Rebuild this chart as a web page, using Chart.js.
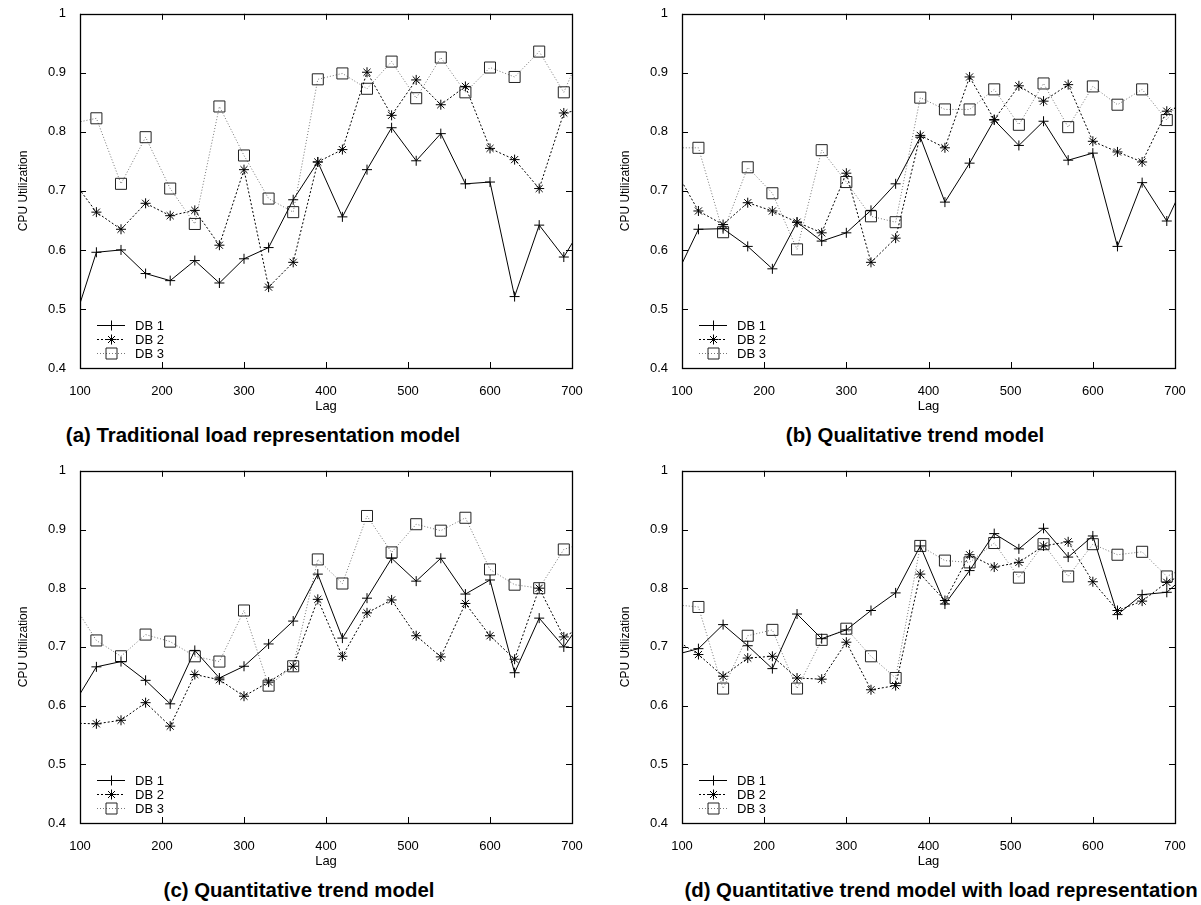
<!DOCTYPE html>
<html>
<head>
<meta charset="utf-8">
<script src="https://cdn.jsdelivr.net/npm/chart.js@4.4.0/dist/chart.umd.min.js"></script>
<style>
body { margin: 0; background: #fff; width: 1201px; height: 905px; position: relative; overflow: hidden; }
canvas { position: absolute; }
.cap { position: absolute; font: bold 20.4px "Liberation Sans", Arial, sans-serif; color: #000; white-space: nowrap; transform: translateX(-50%); }
</style>
</head>
<body>
<canvas id="cA" width="600" height="420" style="left:0px;top:0px"></canvas>
<canvas id="cB" width="600" height="420" style="left:602px;top:0px"></canvas>
<canvas id="cC" width="600" height="418" style="left:0px;top:457px"></canvas>
<canvas id="cD" width="600" height="418" style="left:602px;top:457px"></canvas>
<div class="cap" style="left:263px;top:424px">(a) Traditional load representation model</div>
<div class="cap" style="left:915px;top:424px">(b) Qualitative trend model</div>
<div class="cap" style="left:299px;top:879px">(c) Quantitative trend model</div>
<div class="cap" style="left:941px;top:879px">(d) Quantitative trend model with load representation</div>
<script>
// lag values (first and last lie outside the 100..700 axis and are clipped)
var lag = [90, 120, 150, 180, 210, 240, 270, 300, 330, 360, 390, 420, 450, 480, 510, 540, 570, 600, 630, 660, 690, 720];
var seriesNames = ['DB 1', 'DB 2', 'DB 3'];

// (a) traditional load representation model
var db1A = [0.466, 0.596, 0.600, 0.560, 0.548, 0.582, 0.544, 0.585, 0.604, 0.685, 0.749, 0.656, 0.736, 0.807, 0.751, 0.797, 0.712, 0.715, 0.521, 0.642, 0.588, 0.657];
var db2A = [0.720, 0.664, 0.635, 0.679, 0.658, 0.667, 0.608, 0.736, 0.537, 0.579, 0.749, 0.770, 0.901, 0.828, 0.888, 0.846, 0.877, 0.772, 0.753, 0.704, 0.832, 0.840];
var db3A = [0.814, 0.823, 0.712, 0.791, 0.704, 0.644, 0.843, 0.760, 0.687, 0.664, 0.889, 0.899, 0.873, 0.919, 0.857, 0.926, 0.867, 0.909, 0.893, 0.936, 0.867, 0.963];

// (b) qualitative trend model
var db1B = [0.548, 0.635, 0.636, 0.606, 0.568, 0.647, 0.615, 0.629, 0.667, 0.712, 0.791, 0.681, 0.747, 0.820, 0.777, 0.818, 0.752, 0.764, 0.606, 0.714, 0.649, 0.739];
var db2B = [0.740, 0.666, 0.643, 0.680, 0.666, 0.647, 0.629, 0.730, 0.579, 0.620, 0.794, 0.773, 0.893, 0.821, 0.878, 0.852, 0.880, 0.784, 0.766, 0.749, 0.835, 0.850];
var db3B = [0.773, 0.773, 0.630, 0.740, 0.696, 0.601, 0.769, 0.715, 0.657, 0.647, 0.858, 0.838, 0.838, 0.872, 0.812, 0.882, 0.808, 0.877, 0.846, 0.872, 0.820, 0.886];

// (c) quantitative trend model
var db1C = [0.597, 0.666, 0.675, 0.643, 0.603, 0.694, 0.647, 0.667, 0.705, 0.744, 0.824, 0.715, 0.783, 0.851, 0.812, 0.851, 0.790, 0.814, 0.656, 0.749, 0.700, 0.760];
var db2C = [0.570, 0.569, 0.575, 0.605, 0.565, 0.653, 0.644, 0.616, 0.640, 0.667, 0.781, 0.684, 0.758, 0.780, 0.719, 0.683, 0.774, 0.719, 0.679, 0.800, 0.717, 0.740];
var db3C = [0.777, 0.711, 0.684, 0.721, 0.709, 0.684, 0.675, 0.762, 0.634, 0.667, 0.849, 0.808, 0.923, 0.861, 0.909, 0.898, 0.920, 0.832, 0.806, 0.800, 0.866, 0.880];

// (d) quantitative trend model with load representation
var db1D = [0.686, 0.697, 0.738, 0.702, 0.663, 0.756, 0.714, 0.729, 0.762, 0.792, 0.872, 0.773, 0.830, 0.893, 0.867, 0.902, 0.853, 0.889, 0.755, 0.789, 0.793, 0.830];
var db2D = [0.714, 0.687, 0.650, 0.681, 0.684, 0.647, 0.645, 0.708, 0.627, 0.634, 0.824, 0.779, 0.857, 0.836, 0.844, 0.872, 0.879, 0.811, 0.762, 0.778, 0.810, 0.830];
var db3D = [0.772, 0.768, 0.629, 0.719, 0.729, 0.629, 0.712, 0.731, 0.684, 0.647, 0.872, 0.847, 0.844, 0.877, 0.818, 0.875, 0.820, 0.875, 0.857, 0.862, 0.820, 0.840];

var FONT = '"Liberation Sans", Arial, sans-serif';

function pts(ys) {
	return ys.map(function (v, i) { return { x: lag[i], y: v }; });
}

function marker(ctx, kind, x, y) {
	ctx.beginPath();
	if (kind == 0) {
		ctx.moveTo(x - 5, y); ctx.lineTo(x + 5, y);
		ctx.moveTo(x, y - 5); ctx.lineTo(x, y + 5);
	} else if (kind == 1) {
		ctx.moveTo(x - 5, y); ctx.lineTo(x + 5, y);
		ctx.moveTo(x, y - 5); ctx.lineTo(x, y + 5);
		ctx.moveTo(x - 3.5, y - 3.5); ctx.lineTo(x + 3.5, y + 3.5);
		ctx.moveTo(x - 3.5, y + 3.5); ctx.lineTo(x + 3.5, y - 3.5);
	} else {
		ctx.rect(x - 5.5, y - 5.5, 11, 11);
	}
	ctx.stroke();
}

// gnuplot style frame: box, inward ticks on all sides, legend bottom left
var frame = {
	id: 'frame',
	afterDatasetsDraw: function (chart) {
		var ctx = chart.ctx, a = chart.chartArea;
		var sx = chart.scales.x, sy = chart.scales.y;
		ctx.save();
		ctx.strokeStyle = '#000';
		ctx.lineWidth = 1;
		ctx.setLineDash([]);
		ctx.beginPath();
		sx.ticks.forEach(function (t) {
			var px = Math.round(sx.getPixelForValue(t.value)) + 0.5;
			ctx.moveTo(px, a.bottom); ctx.lineTo(px, a.bottom - 6);
			ctx.moveTo(px, a.top); ctx.lineTo(px, a.top + 6);
		});
		sy.ticks.forEach(function (t) {
			var py = Math.round(sy.getPixelForValue(t.value)) + 0.5;
			ctx.moveTo(a.left, py); ctx.lineTo(a.left + 6, py);
			ctx.moveTo(a.right, py); ctx.lineTo(a.right - 6, py);
		});
		ctx.stroke();
		ctx.lineWidth = 1.3;
		ctx.strokeRect(Math.round(a.left) + 0.5, Math.round(a.top) + 0.5, Math.round(a.right - a.left), Math.round(a.bottom - a.top));

		var rows = [a.bottom - 43, a.bottom - 29, a.bottom - 15];
		chart.data.datasets.forEach(function (ds, i) {
			var y = Math.round(rows[i]) + 0.5;
			ctx.lineWidth = 1;
			ctx.strokeStyle = ds.borderColor;
			ctx.setLineDash(ds.borderDash || []);
			ctx.beginPath();
			ctx.moveTo(a.left + 17, y); ctx.lineTo(a.left + 45, y);
			ctx.stroke();
			ctx.setLineDash([]);
			ctx.strokeStyle = ds.pointBorderColor;
			marker(ctx, i, a.left + 31.5, y);
			ctx.fillStyle = '#000';
			ctx.font = '13px ' + FONT;
			ctx.textAlign = 'left';
			ctx.textBaseline = 'middle';
			ctx.fillText(ds.label, a.left + 55, y + 1);
		});
		ctx.restore();
	}
};

function makeChart(id, d1, d2, d3, padRight) {
	return new Chart(document.getElementById(id), {
		type: 'line',
		data: {
			datasets: [{
				label: seriesNames[0],
				data: pts(d1),
				borderColor: '#000',
				borderWidth: 1,
				pointStyle: 'cross',
				pointRadius: 5,
				pointBorderColor: '#000',
				pointBorderWidth: 1,
				pointBackgroundColor: 'rgba(0,0,0,0)'
			}, {
				label: seriesNames[1],
				data: pts(d2),
				borderColor: '#000',
				borderWidth: 1,
				borderDash: [2, 2],
				pointStyle: 'star',
				pointRadius: 5,
				pointBorderColor: '#000',
				pointBorderWidth: 1,
				pointBackgroundColor: 'rgba(0,0,0,0)'
			}, {
				label: seriesNames[2],
				data: pts(d3),
				borderColor: '#777',
				borderWidth: 1,
				borderDash: [1, 2],
				pointStyle: 'rect',
				pointRadius: 7.8,
				pointBorderColor: '#222',
				pointBorderWidth: 1,
				pointBackgroundColor: 'rgba(0,0,0,0)'
			}]
		},
		options: {
			responsive: false,
			animation: false,
			events: [],
			layout: { padding: { top: 13, right: padRight, left: 0, bottom: 0 } },
			plugins: { legend: { display: false }, tooltip: { enabled: false } },
			scales: {
				x: {
					type: 'linear',
					min: 100,
					max: 700,
					ticks: { stepSize: 100, color: '#000', font: { family: FONT, size: 13 }, padding: 8, maxRotation: 0 },
					grid: { display: false },
					border: { display: false },
					title: { display: true, text: 'Lag', color: '#000', font: { family: FONT, size: 13 }, padding: { top: 0, bottom: 6 } },
					afterFit: function (s) { s.height = 52; }
				},
				y: {
					min: 0.4,
					max: 1,
					ticks: {
						stepSize: 0.1, color: '#000', font: { family: FONT, size: 13 }, padding: 6,
						callback: function (v) { return String(+v.toFixed(1)); }
					},
					grid: { display: false },
					border: { display: false },
					title: { display: true, text: 'CPU Utilization', color: '#000', font: { family: FONT, size: 12 }, padding: { top: 16, bottom: 0 } },
					afterFit: function (s) { s.width = 80; }
				}
			}
		},
		plugins: [frame]
	});
}

makeChart('cA', db1A, db2A, db3A, 28);
makeChart('cB', db1B, db2B, db3B, 27);
makeChart('cC', db1C, db2C, db3C, 28);
makeChart('cD', db1D, db2D, db3D, 27);
</script>
</body>
</html>
